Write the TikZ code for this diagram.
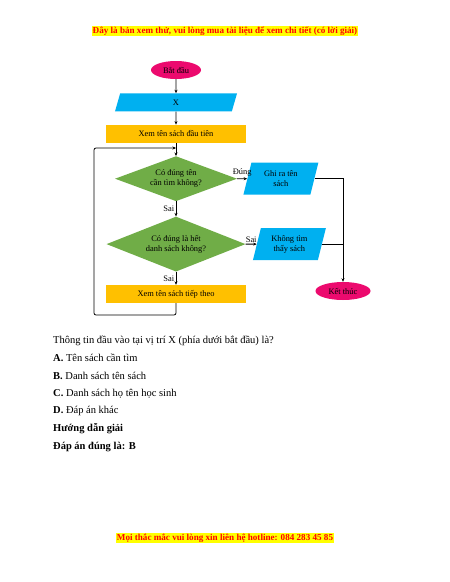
\documentclass[tikz,border=0pt]{standalone}
\usepackage{fontspec}
\setmainfont{Liberation Serif}
\usetikzlibrary{arrows.meta, positioning, shapes.geometric}
\definecolor{fcPink}{HTML}{EC0A6E}
\definecolor{fcCyan}{HTML}{00B0F0}
\definecolor{fcOrange}{HTML}{FFC000}
\definecolor{fcGreen}{HTML}{70AD47}
\definecolor{noteRed}{HTML}{FF0000}
\definecolor{noteYellow}{HTML}{FFFF00}
\newcommand{\fcfont}{\fontsize{8.4}{10}\selectfont}

\begin{document}
\begin{tikzpicture}[x=1pt, y=-1pt,
    terminal/.style={ellipse, fill=fcPink, minimum width=50pt,
                     minimum height=18pt, inner sep=0pt, font=\fcfont},
    io/.style={trapezium, trapezium left angle=74, trapezium right angle=106,
               trapezium stretches=true, fill=fcCyan, inner sep=0pt,
               align=center, font=\fcfont},
    process/.style={rectangle, fill=fcOrange, minimum width=140pt,
                    minimum height=18pt, inner sep=0pt, font=\fcfont},
    decision/.style={diamond, fill=fcGreen, inner sep=0pt, align=center,
                     aspect=2.6, font=\fcfont},
    line/.style={line width=0.8pt},
    flow/.style={line, -{Stealth[length=3.5pt, width=3pt]}},
    tag/.style={font=\fcfont, inner sep=1.5pt},
    notice/.style={fill=noteYellow, text=noteRed, inner sep=1pt,
                   font=\fontsize{9.1}{11}\selectfont\bfseries},
    answer/.style={anchor=west, inner sep=0pt, font=\fontsize{10.5}{12}\selectfont},
  ]
    \useasboundingbox (0,0) rectangle (450,582);
    \fill[white] (0,0) rectangle (450,582);

    % Header
    \node[notice] (head) at (225,31)
      {Đây là bản xem thử, vui lòng mua tài liệu để xem chi tiết (có lời giải)};

    % Main column
    \node[terminal] (start) at (176,70) {Bắt đầu};
    \node[io, trapezium stretches body=true, text height=6pt, text depth=0pt,
          inner ysep=6pt, minimum width=122pt, minimum height=18pt,
          below=14pt of start] (input) {X};
    \node[process, below=13pt of input] (first) {Xem tên sách đầu tiên};
    \node[decision, minimum width=122pt, minimum height=45pt,
          below=13pt of first] (match) {Có đúng tên\\cần tìm không?};
    \node[decision, minimum width=139pt, minimum height=55pt,
          below=15pt of match] (last) {Có đúng là hết\\danh sách không?};
    \node[process, below=13pt of last] (next) {Xem tên sách tiếp theo};

    % Right column
    \node[io, minimum width=75pt, minimum height=32pt,
          right=10pt of match] (found) {Ghi ra tên\\sách};
    \node[io, minimum width=73pt, minimum height=32pt,
          right=11pt of last] (notfound) {Không tìm\\thấy sách};
    \node[terminal, minimum width=55pt] (end) at (343,291) {Kết thúc};

    % Arrows
    \draw[flow] (start) -- (input);
    \draw[flow] (input) -- (first);
    \draw[flow] (first) -- (match);
    \draw[flow] (match) -- node[tag, left] {Sai} (last);
    \draw[flow] (match) -- node[tag, above] {Đúng} (found);
    \draw[flow] (last) -- node[tag, above] {Sai} (notfound);
    \draw[flow] (last) -- node[tag, left] {Sai} (next);
    \draw[flow] (found.east) -| (end.north);
    \draw[line] (notfound.east) -- (notfound.east -| end.north);

    % Loop back
    \coordinate (loopL) at (94,315);
    \coordinate (loopIn) at (176,148);
    \draw[flow, rounded corners=2pt] (next.south) |- (loopL) |- (loopIn);

    % Question
    \node[answer] (q) at (53,341)
      {Thông tin đầu vào tại vị trí X (phía dưới bắt đầu) là?};
    \node[answer] (optA) at (53,358) {\textbf{A.} Tên sách cần tìm};
    \node[answer] (optB) at (53,376) {\textbf{B.} Danh sách tên sách};
    \node[answer] (optC) at (53,394) {\textbf{C.} Danh sách họ tên học sinh};
    \node[answer] (optD) at (53,411) {\textbf{D.} Đáp án khác};
    \node[answer] (guide) at (53,429) {\textbf{Hướng dẫn giải}};
    \node[answer] (key) at (53,447) {\textbf{Đáp án đúng là: B}};

    % Footer
    \node[notice] (foot) at (225,538)
      {Mọi thắc mắc vui lòng xin liên hệ hotline: 084 283 45 85};
  \end{tikzpicture}
\end{document}
